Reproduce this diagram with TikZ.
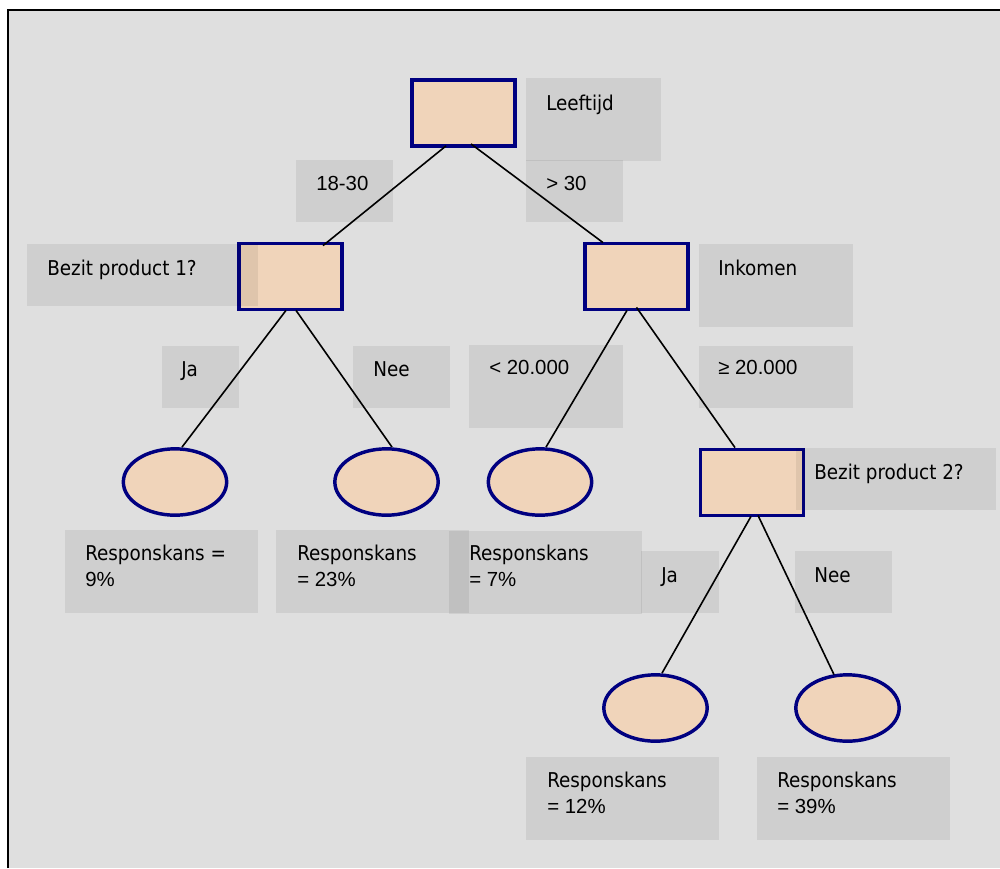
\documentclass[tikz,border=0pt]{standalone}
\usepackage{fontspec}
\setmainfont{DejaVu Sans Condensed}
\newfontfamily\arl{Liberation Sans}
\usetikzlibrary{shapes.geometric,calc}
\definecolor{bggray}{HTML}{DFDFDF}
\definecolor{peach}{HTML}{F0D4BA}
\definecolor{navyb}{HTML}{000080}
\begin{document}
\begin{tikzpicture}[x=0.75pt,y=-0.75pt,
  decision/.style={rectangle,draw=navyb,fill=peach,line width=2.6pt,minimum width=77.5pt,minimum height=49.75pt,inner sep=0pt},
  leaf/.style={ellipse,draw=navyb,fill=peach,line width=2.6pt,minimum width=77.5pt,minimum height=49.75pt,inner sep=0pt},
  labelbox/.style={rectangle,fill=black,fill opacity=0.072,draw=none,inner sep=0pt,anchor=north west},
  boxA/.style={labelbox,minimum width=72.75pt,minimum height=46.5pt},
  boxB/.style={labelbox,minimum width=115.5pt,minimum height=62.25pt},
  boxR/.style={labelbox,minimum width=144.75pt,minimum height=62.25pt},
  labeltext/.style={anchor=base west,inner sep=0pt,font=\fontsize{15.3}{19.2}\selectfont,align=left},
  edge/.style={draw=black,line width=1.2pt}]
\useasboundingbox (0,0) rectangle (1000,868);
% frame
\fill[bggray] (8,10) rectangle (1000,868);
\draw[line width=1.6pt] (8,868) -- (8,10) -- (1000,10);
% tree nodes
\node[decision] (root) at (463.5,113) {};
\node[decision] (bp1) at (290.5,276.5) {};
\node[decision] (ink) at (636.5,276.5) {};
\node[decision] (bp2) at (752,482.5) {};
\node[leaf] (e1) at (175,482) {};
\node[leaf] (e2) at (386.5,482) {};
\node[leaf] (e3) at (540,482) {};
\node[leaf] (e4) at (655.5,708) {};
\node[leaf] (e5) at (847.5,708) {};
% label boxes
\node[boxB,minimum width=101.25pt] (bLeef) at (526,78) {};
\node[boxA] (bA1830) at (296,160) {};
\node[boxA] (bGt30) at (526,160) {};
\node[boxA,minimum width=173.25pt] (bBp1) at (27,244) {};
\node[boxB] (bInk) at (699,244) {};
\node[boxA,minimum width=57.75pt] (bJa1) at (162,346) {};
\node[boxA] (bNee1) at (353,346) {};
\node[boxB] (bLt20) at (469,345) {};
\node[boxB,minimum height=46.5pt] (bGe20) at (699,346) {};
\node[boxA,minimum width=150pt] (bBp2) at (796,448) {};
\node[boxR] (bR1) at (65,530) {};
\node[boxR] (bR2) at (276,530) {};
\node[boxR] (bR3) at (449,531) {};
\node[boxA,minimum width=58.5pt] (bJa2) at (641,551) {};
\node[boxA] (bNee2) at (795,551) {};
\node[boxR] (bR4) at (526,757) {};
\node[boxR] (bR5) at (757,757) {};
% connectors
\draw[edge] ($(root.south)+(-17.5,-2)$) -- ($(bp1.north)+(32.5,4)$);
\draw[edge] ($(root.south)+(7.5,-4)$) -- ($(ink.north)+(-33.5,1)$);
\draw[edge] ($(bp1.south)+(-4.5,-1)$) -- ($(e1.north)+(7,0)$);
\draw[edge] ($(bp1.south)+(5.5,-1)$) -- ($(e2.north)+(5.5,0)$);
\draw[edge] ($(ink.south)+(-9.5,-1)$) -- ($(e3.north)+(6,0)$);
\draw[edge] ($(ink.south)+(0,-4)$) -- ($(bp2.north)+(-17,0)$);
\draw[edge] ($(bp2.south)+(-1,-1)$) -- ($(e4.north)+(6.5,0)$);
\draw[edge] ($(bp2.south)+(6,-2)$) -- ($(e5.north)+(-13.5,1.5)$);
% texts
\node[labeltext] (tLeef) at ($(bLeef.north west)+(20,32)$) {Leeftijd};
\node[labeltext] (t1830) at ($(bA1830.north west)+(20,30)$) {\arl 18-30};
\node[labeltext] (tGt30) at ($(bGt30.north west)+(20,30)$) {\arl > 30};
\node[labeltext] (tBp1) at ($(bBp1.north west)+(20,31)$) {Bezit product 1?};
\node[labeltext] (tInk) at ($(bInk.north west)+(19,31)$) {Inkomen};
\node[labeltext] (tJa1) at ($(bJa1.north west)+(19,30)$) {Ja};
\node[labeltext] (tNee1) at ($(bNee1.north west)+(20,30)$) {Nee};
\node[labeltext] (tLt20) at ($(bLt20.north west)+(20,29)$) {\arl < 20.000};
\node[labeltext] (tGe20) at ($(bGe20.north west)+(19,28)$) {\arl ≥ 20.000};
\node[labeltext] (tBp2) at ($(bBp2.north west)+(18,31)$) {Bezit product 2?};
\node[labeltext] (tR1) at ($(bR1.north west)+(20,56)$) {Responskans =\\{\arl 9\%}};
\node[labeltext] (tR2) at ($(bR2.north west)+(21,56)$) {Responskans\\{\arl = 23\%}};
\node[labeltext] (tR3) at ($(bR3.north west)+(20,55)$) {Responskans\\{\arl = 7\%}};
\node[labeltext] (tJa2) at ($(bJa2.north west)+(20,31)$) {Ja};
\node[labeltext] (tNee2) at ($(bNee2.north west)+(19,31)$) {Nee};
\node[labeltext] (tR4) at ($(bR4.north west)+(21,56)$) {Responskans\\{\arl = 12\%}};
\node[labeltext] (tR5) at ($(bR5.north west)+(20,56)$) {Responskans\\{\arl = 39\%}};
\end{tikzpicture}
\end{document}
